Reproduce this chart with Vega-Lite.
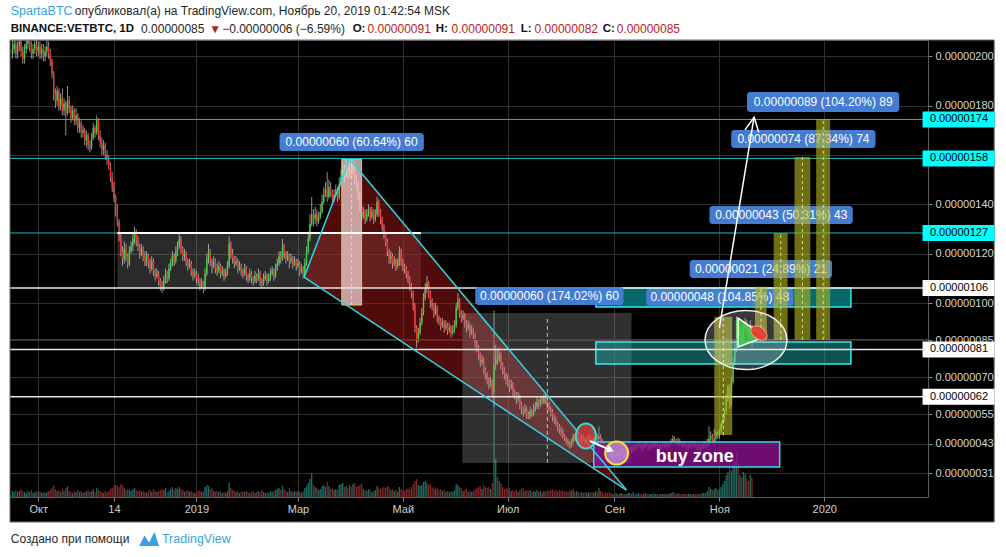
{
"$schema": "https://vega.github.io/schema/vega-lite/v6.json",
"width": 923, "height": 457, "autosize": "none",
"padding": {"left": 5, "top": 40, "right": 78, "bottom": 60},
"background": "#000000",
"config": {"view": {"stroke": "#5a5a5a", "strokeWidth": 1}, "font": "Liberation Sans", "axis": {"titleOpacity": 0}},
"datasets": {"c": [
{"d":"2018-09-16","o":201,"h":207,"l":199,"c":203,"v":6},
{"d":"2018-09-17","o":203,"h":209,"l":201,"c":205,"v":5},
{"d":"2018-09-18","o":205,"h":207,"l":199,"c":201,"v":7},
{"d":"2018-09-19","o":201,"h":206,"l":199,"c":204,"v":5},
{"d":"2018-09-20","o":204,"h":210,"l":202,"c":206,"v":6},
{"d":"2018-09-21","o":206,"h":208,"l":200,"c":202,"v":8},
{"d":"2018-09-22","o":202,"h":204,"l":197,"c":199,"v":6},
{"d":"2018-09-23","o":199,"h":205,"l":197,"c":203,"v":5},
{"d":"2018-09-24","o":203,"h":208,"l":201,"c":205,"v":4},
{"d":"2018-09-25","o":205,"h":211,"l":203,"c":207,"v":6},
{"d":"2018-09-26","o":207,"h":209,"l":202,"c":204,"v":5},
{"d":"2018-09-27","o":204,"h":206,"l":199,"c":201,"v":7},
{"d":"2018-09-28","o":201,"h":205,"l":199,"c":203,"v":4},
{"d":"2018-09-29","o":203,"h":207,"l":201,"c":205,"v":5},
{"d":"2018-09-30","o":205,"h":207,"l":200,"c":202,"v":6},
{"d":"2018-10-01","o":202,"h":206,"l":200,"c":204,"v":5},
{"d":"2018-10-02","o":204,"h":206,"l":199,"c":201,"v":6},
{"d":"2018-10-03","o":201,"h":205,"l":199,"c":203,"v":4},
{"d":"2018-10-04","o":203,"h":205,"l":198,"c":200,"v":5},
{"d":"2018-10-05","o":200,"h":204,"l":198,"c":202,"v":4},
{"d":"2018-10-06","o":202,"h":207,"l":200,"c":204,"v":5},
{"d":"2018-10-07","o":204,"h":206,"l":199,"c":201,"v":6},
{"d":"2018-10-08","o":201,"h":203,"l":196,"c":198,"v":7},
{"d":"2018-10-09","o":198,"h":199,"l":191,"c":193,"v":9},
{"d":"2018-10-10","o":193,"h":194,"l":182,"c":185,"v":12},
{"d":"2018-10-11","o":185,"h":187,"l":179,"c":182,"v":8},
{"d":"2018-10-12","o":182,"h":188,"l":180,"c":186,"v":6},
{"d":"2018-10-13","o":186,"h":187,"l":178,"c":180,"v":7},
{"d":"2018-10-14","o":180,"h":185,"l":178,"c":183,"v":5},
{"d":"2018-10-15","o":183,"h":187,"l":176,"c":178,"v":8},
{"d":"2018-10-16","o":178,"h":183,"l":176,"c":181,"v":6},
{"d":"2018-10-17","o":181,"h":182,"l":168,"c":177,"v":9},
{"d":"2018-10-18","o":177,"h":188,"l":176,"c":182,"v":11},
{"d":"2018-10-19","o":182,"h":184,"l":177,"c":179,"v":6},
{"d":"2018-10-20","o":179,"h":180,"l":173,"c":175,"v":5},
{"d":"2018-10-21","o":175,"h":180,"l":174,"c":178,"v":4},
{"d":"2018-10-22","o":178,"h":179,"l":172,"c":174,"v":6},
{"d":"2018-10-23","o":174,"h":179,"l":172,"c":176,"v":5},
{"d":"2018-10-24","o":176,"h":177,"l":169,"c":171,"v":7},
{"d":"2018-10-25","o":171,"h":175,"l":169,"c":173,"v":5},
{"d":"2018-10-26","o":173,"h":174,"l":167,"c":169,"v":6},
{"d":"2018-10-27","o":169,"h":172,"l":167,"c":170,"v":4},
{"d":"2018-10-28","o":170,"h":171,"l":164,"c":166,"v":5},
{"d":"2018-10-29","o":166,"h":170,"l":163,"c":168,"v":6},
{"d":"2018-10-30","o":168,"h":169,"l":162,"c":164,"v":7},
{"d":"2018-10-31","o":164,"h":166,"l":161,"c":163,"v":5},
{"d":"2018-11-01","o":163,"h":169,"l":162,"c":167,"v":6},
{"d":"2018-11-02","o":167,"h":173,"l":166,"c":171,"v":8},
{"d":"2018-11-03","o":171,"h":172,"l":167,"c":169,"v":5},
{"d":"2018-11-04","o":169,"h":176,"l":168,"c":174,"v":9},
{"d":"2018-11-05","o":174,"h":175,"l":166,"c":168,"v":7},
{"d":"2018-11-06","o":168,"h":170,"l":163,"c":165,"v":6},
{"d":"2018-11-07","o":165,"h":167,"l":160,"c":162,"v":5},
{"d":"2018-11-08","o":162,"h":166,"l":160,"c":164,"v":4},
{"d":"2018-11-09","o":164,"h":165,"l":158,"c":160,"v":6},
{"d":"2018-11-10","o":160,"h":162,"l":156,"c":158,"v":5},
{"d":"2018-11-11","o":158,"h":160,"l":154,"c":156,"v":6},
{"d":"2018-11-12","o":156,"h":157,"l":149,"c":151,"v":8},
{"d":"2018-11-13","o":151,"h":153,"l":145,"c":147,"v":9},
{"d":"2018-11-14","o":147,"h":149,"l":141,"c":143,"v":10},
{"d":"2018-11-15","o":143,"h":144,"l":135,"c":138,"v":12},
{"d":"2018-11-16","o":138,"h":140,"l":131,"c":133,"v":11},
{"d":"2018-11-17","o":133,"h":134,"l":125,"c":127,"v":10},
{"d":"2018-11-18","o":127,"h":128,"l":119,"c":121,"v":13},
{"d":"2018-11-19","o":121,"h":123,"l":115,"c":118,"v":12},
{"d":"2018-11-20","o":118,"h":125,"l":116,"c":122,"v":9},
{"d":"2018-11-21","o":122,"h":124,"l":117,"c":119,"v":7},
{"d":"2018-11-22","o":119,"h":120,"l":114,"c":116,"v":8},
{"d":"2018-11-23","o":116,"h":123,"l":115,"c":121,"v":7},
{"d":"2018-11-24","o":121,"h":125,"l":120,"c":123,"v":6},
{"d":"2018-11-25","o":123,"h":128,"l":121,"c":126,"v":8},
{"d":"2018-11-26","o":126,"h":131,"l":124,"c":129,"v":9},
{"d":"2018-11-27","o":129,"h":130,"l":123,"c":125,"v":7},
{"d":"2018-11-28","o":125,"h":127,"l":121,"c":123,"v":6},
{"d":"2018-11-29","o":123,"h":124,"l":118,"c":120,"v":7},
{"d":"2018-11-30","o":120,"h":124,"l":119,"c":122,"v":5},
{"d":"2018-12-01","o":122,"h":123,"l":117,"c":119,"v":6},
{"d":"2018-12-02","o":119,"h":121,"l":115,"c":117,"v":5},
{"d":"2018-12-03","o":117,"h":121,"l":115,"c":119,"v":4},
{"d":"2018-12-04","o":119,"h":120,"l":114,"c":116,"v":6},
{"d":"2018-12-05","o":116,"h":118,"l":112,"c":114,"v":7},
{"d":"2018-12-06","o":114,"h":119,"l":113,"c":117,"v":5},
{"d":"2018-12-07","o":117,"h":118,"l":111,"c":113,"v":8},
{"d":"2018-12-08","o":113,"h":114,"l":109,"c":111,"v":6},
{"d":"2018-12-09","o":111,"h":114,"l":110,"c":112,"v":5},
{"d":"2018-12-10","o":112,"h":113,"l":107,"c":109,"v":6},
{"d":"2018-12-11","o":109,"h":110,"l":105,"c":107,"v":7},
{"d":"2018-12-12","o":107,"h":109,"l":104,"c":106,"v":8},
{"d":"2018-12-13","o":106,"h":111,"l":105,"c":109,"v":7},
{"d":"2018-12-14","o":109,"h":114,"l":108,"c":112,"v":9},
{"d":"2018-12-15","o":112,"h":113,"l":108,"c":110,"v":5},
{"d":"2018-12-16","o":110,"h":116,"l":109,"c":114,"v":6},
{"d":"2018-12-17","o":114,"h":118,"l":113,"c":116,"v":8},
{"d":"2018-12-18","o":116,"h":121,"l":115,"c":119,"v":10},
{"d":"2018-12-19","o":119,"h":120,"l":115,"c":117,"v":7},
{"d":"2018-12-20","o":117,"h":123,"l":116,"c":121,"v":9},
{"d":"2018-12-21","o":121,"h":125,"l":119,"c":123,"v":8},
{"d":"2018-12-22","o":123,"h":128,"l":122,"c":126,"v":10},
{"d":"2018-12-23","o":126,"h":127,"l":120,"c":122,"v":8},
{"d":"2018-12-24","o":122,"h":123,"l":117,"c":119,"v":7},
{"d":"2018-12-25","o":119,"h":122,"l":117,"c":120,"v":5},
{"d":"2018-12-26","o":120,"h":121,"l":115,"c":117,"v":6},
{"d":"2018-12-27","o":117,"h":118,"l":113,"c":115,"v":7},
{"d":"2018-12-28","o":115,"h":118,"l":114,"c":116,"v":5},
{"d":"2018-12-29","o":116,"h":117,"l":111,"c":113,"v":6},
{"d":"2018-12-30","o":113,"h":114,"l":109,"c":111,"v":5},
{"d":"2018-12-31","o":111,"h":114,"l":110,"c":112,"v":4},
{"d":"2019-01-01","o":112,"h":113,"l":108,"c":110,"v":5},
{"d":"2019-01-02","o":110,"h":112,"l":107,"c":109,"v":6},
{"d":"2019-01-03","o":109,"h":110,"l":105,"c":107,"v":7},
{"d":"2019-01-04","o":107,"h":110,"l":106,"c":108,"v":5},
{"d":"2019-01-05","o":108,"h":109,"l":104,"c":106,"v":6},
{"d":"2019-01-06","o":106,"h":114,"l":105,"c":112,"v":10},
{"d":"2019-01-07","o":112,"h":120,"l":111,"c":118,"v":12},
{"d":"2019-01-08","o":118,"h":124,"l":116,"c":121,"v":11},
{"d":"2019-01-09","o":121,"h":122,"l":115,"c":117,"v":8},
{"d":"2019-01-10","o":117,"h":118,"l":112,"c":115,"v":9},
{"d":"2019-01-11","o":115,"h":119,"l":114,"c":117,"v":6},
{"d":"2019-01-12","o":117,"h":118,"l":112,"c":114,"v":5},
{"d":"2019-01-13","o":114,"h":116,"l":111,"c":113,"v":6},
{"d":"2019-01-14","o":113,"h":117,"l":112,"c":115,"v":5},
{"d":"2019-01-15","o":115,"h":116,"l":110,"c":112,"v":6},
{"d":"2019-01-16","o":112,"h":115,"l":111,"c":113,"v":4},
{"d":"2019-01-17","o":113,"h":114,"l":109,"c":111,"v":5},
{"d":"2019-01-18","o":111,"h":114,"l":110,"c":112,"v":4},
{"d":"2019-01-19","o":112,"h":117,"l":111,"c":115,"v":6},
{"d":"2019-01-20","o":115,"h":127,"l":114,"c":124,"v":14},
{"d":"2019-01-21","o":124,"h":125,"l":118,"c":120,"v":9},
{"d":"2019-01-22","o":120,"h":122,"l":116,"c":118,"v":7},
{"d":"2019-01-23","o":118,"h":119,"l":114,"c":116,"v":6},
{"d":"2019-01-24","o":116,"h":119,"l":115,"c":117,"v":5},
{"d":"2019-01-25","o":117,"h":118,"l":112,"c":114,"v":6},
{"d":"2019-01-26","o":114,"h":117,"l":113,"c":115,"v":4},
{"d":"2019-01-27","o":115,"h":116,"l":111,"c":113,"v":5},
{"d":"2019-01-28","o":113,"h":114,"l":110,"c":112,"v":6},
{"d":"2019-01-29","o":112,"h":116,"l":111,"c":114,"v":5},
{"d":"2019-01-30","o":114,"h":115,"l":109,"c":111,"v":6},
{"d":"2019-01-31","o":111,"h":112,"l":108,"c":110,"v":5},
{"d":"2019-02-01","o":110,"h":114,"l":109,"c":112,"v":4},
{"d":"2019-02-02","o":112,"h":113,"l":108,"c":110,"v":5},
{"d":"2019-02-03","o":110,"h":111,"l":107,"c":109,"v":6},
{"d":"2019-02-04","o":109,"h":113,"l":108,"c":111,"v":4},
{"d":"2019-02-05","o":111,"h":112,"l":108,"c":110,"v":5},
{"d":"2019-02-06","o":110,"h":114,"l":109,"c":112,"v":6},
{"d":"2019-02-07","o":112,"h":113,"l":107,"c":109,"v":5},
{"d":"2019-02-08","o":109,"h":110,"l":106,"c":108,"v":7},
{"d":"2019-02-09","o":108,"h":112,"l":107,"c":110,"v":5},
{"d":"2019-02-10","o":110,"h":113,"l":109,"c":111,"v":4},
{"d":"2019-02-11","o":111,"h":112,"l":107,"c":109,"v":5},
{"d":"2019-02-12","o":109,"h":112,"l":108,"c":110,"v":4},
{"d":"2019-02-13","o":110,"h":114,"l":109,"c":112,"v":6},
{"d":"2019-02-14","o":112,"h":115,"l":111,"c":113,"v":5},
{"d":"2019-02-15","o":113,"h":114,"l":109,"c":111,"v":6},
{"d":"2019-02-16","o":111,"h":116,"l":110,"c":114,"v":7},
{"d":"2019-02-17","o":114,"h":118,"l":113,"c":116,"v":8},
{"d":"2019-02-18","o":116,"h":121,"l":115,"c":119,"v":9},
{"d":"2019-02-19","o":119,"h":121,"l":116,"c":118,"v":7},
{"d":"2019-02-20","o":118,"h":126,"l":117,"c":123,"v":11},
{"d":"2019-02-21","o":123,"h":124,"l":118,"c":120,"v":8},
{"d":"2019-02-22","o":120,"h":121,"l":116,"c":118,"v":6},
{"d":"2019-02-23","o":118,"h":121,"l":117,"c":119,"v":5},
{"d":"2019-02-24","o":119,"h":120,"l":114,"c":117,"v":9},
{"d":"2019-02-25","o":117,"h":120,"l":116,"c":118,"v":6},
{"d":"2019-02-26","o":118,"h":119,"l":114,"c":116,"v":5},
{"d":"2019-02-27","o":116,"h":119,"l":115,"c":117,"v":6},
{"d":"2019-02-28","o":117,"h":118,"l":113,"c":115,"v":5},
{"d":"2019-03-01","o":115,"h":118,"l":114,"c":116,"v":6},
{"d":"2019-03-02","o":116,"h":117,"l":111,"c":113,"v":5},
{"d":"2019-03-03","o":113,"h":116,"l":112,"c":114,"v":4},
{"d":"2019-03-04","o":114,"h":115,"l":110,"c":112,"v":6},
{"d":"2019-03-05","o":112,"h":118,"l":111,"c":116,"v":9},
{"d":"2019-03-06","o":116,"h":123,"l":115,"c":121,"v":11},
{"d":"2019-03-07","o":121,"h":129,"l":120,"c":126,"v":14},
{"d":"2019-03-08","o":126,"h":136,"l":125,"c":132,"v":18},
{"d":"2019-03-09","o":132,"h":143,"l":131,"c":136,"v":24},
{"d":"2019-03-10","o":136,"h":138,"l":131,"c":134,"v":12},
{"d":"2019-03-11","o":134,"h":139,"l":132,"c":136,"v":10},
{"d":"2019-03-12","o":136,"h":138,"l":131,"c":133,"v":9},
{"d":"2019-03-13","o":133,"h":137,"l":132,"c":135,"v":7},
{"d":"2019-03-14","o":135,"h":140,"l":134,"c":137,"v":8},
{"d":"2019-03-15","o":137,"h":144,"l":136,"c":141,"v":11},
{"d":"2019-03-16","o":141,"h":147,"l":140,"c":144,"v":12},
{"d":"2019-03-17","o":144,"h":149,"l":143,"c":146,"v":10},
{"d":"2019-03-18","o":146,"h":153,"l":141,"c":143,"v":15},
{"d":"2019-03-19","o":143,"h":150,"l":142,"c":147,"v":11},
{"d":"2019-03-20","o":147,"h":149,"l":143,"c":145,"v":8},
{"d":"2019-03-21","o":145,"h":146,"l":140,"c":142,"v":9},
{"d":"2019-03-22","o":142,"h":146,"l":141,"c":144,"v":7},
{"d":"2019-03-23","o":144,"h":148,"l":143,"c":146,"v":8},
{"d":"2019-03-24","o":146,"h":147,"l":141,"c":143,"v":7},
{"d":"2019-03-25","o":143,"h":151,"l":142,"c":148,"v":12},
{"d":"2019-03-26","o":148,"h":154,"l":147,"c":151,"v":13},
{"d":"2019-03-27","o":151,"h":157,"l":150,"c":154,"v":14},
{"d":"2019-03-28","o":154,"h":156,"l":149,"c":152,"v":10},
{"d":"2019-03-29","o":152,"h":158,"l":151,"c":156,"v":11},
{"d":"2019-03-30","o":156,"h":157,"l":150,"c":153,"v":9},
{"d":"2019-03-31","o":153,"h":158.5,"l":151,"c":155,"v":12},
{"d":"2019-04-01","o":155,"h":157,"l":151,"c":154,"v":10},
{"d":"2019-04-02","o":154,"h":158,"l":152,"c":156,"v":13},
{"d":"2019-04-03","o":156,"h":157,"l":148,"c":150,"v":14},
{"d":"2019-04-04","o":150,"h":152,"l":146,"c":148,"v":10},
{"d":"2019-04-05","o":148,"h":149,"l":142,"c":144,"v":11},
{"d":"2019-04-06","o":144,"h":145,"l":137,"c":139,"v":12},
{"d":"2019-04-07","o":139,"h":140,"l":133,"c":135,"v":13},
{"d":"2019-04-08","o":135,"h":139,"l":134,"c":137,"v":8},
{"d":"2019-04-09","o":137,"h":138,"l":132,"c":134,"v":7},
{"d":"2019-04-10","o":134,"h":138,"l":133,"c":136,"v":6},
{"d":"2019-04-11","o":136,"h":140,"l":135,"c":138,"v":8},
{"d":"2019-04-12","o":138,"h":139,"l":133,"c":135,"v":7},
{"d":"2019-04-13","o":135,"h":139,"l":134,"c":137,"v":5},
{"d":"2019-04-14","o":137,"h":138,"l":132,"c":134,"v":6},
{"d":"2019-04-15","o":134,"h":138,"l":133,"c":136,"v":7},
{"d":"2019-04-16","o":136,"h":143,"l":135,"c":141,"v":11},
{"d":"2019-04-17","o":141,"h":142,"l":135,"c":137,"v":9},
{"d":"2019-04-18","o":137,"h":138,"l":132,"c":134,"v":8},
{"d":"2019-04-19","o":134,"h":135,"l":129,"c":131,"v":9},
{"d":"2019-04-20","o":131,"h":132,"l":126,"c":128,"v":10},
{"d":"2019-04-21","o":128,"h":129,"l":123,"c":125,"v":9},
{"d":"2019-04-22","o":125,"h":126,"l":119,"c":121,"v":11},
{"d":"2019-04-23","o":121,"h":122,"l":116,"c":118,"v":10},
{"d":"2019-04-24","o":118,"h":121,"l":116,"c":119,"v":7},
{"d":"2019-04-25","o":119,"h":120,"l":114,"c":116,"v":8},
{"d":"2019-04-26","o":116,"h":119,"l":115,"c":117,"v":6},
{"d":"2019-04-27","o":117,"h":118,"l":113,"c":115,"v":7},
{"d":"2019-04-28","o":115,"h":118,"l":114,"c":116,"v":5},
{"d":"2019-04-29","o":116,"h":123,"l":115,"c":121,"v":10},
{"d":"2019-04-30","o":121,"h":122,"l":115,"c":117,"v":8},
{"d":"2019-05-01","o":117,"h":118,"l":113,"c":115,"v":7},
{"d":"2019-05-02","o":115,"h":116,"l":112,"c":114,"v":6},
{"d":"2019-05-03","o":114,"h":115,"l":110,"c":112,"v":8},
{"d":"2019-05-04","o":112,"h":113,"l":108,"c":110,"v":9},
{"d":"2019-05-05","o":110,"h":111,"l":105,"c":107,"v":8},
{"d":"2019-05-06","o":107,"h":108,"l":102,"c":104,"v":10},
{"d":"2019-05-07","o":104,"h":105,"l":97,"c":99,"v":13},
{"d":"2019-05-08","o":99,"h":100,"l":88,"c":90,"v":16},
{"d":"2019-05-09","o":90,"h":91,"l":82,"c":85,"v":18},
{"d":"2019-05-10","o":85,"h":90,"l":84,"c":88,"v":12},
{"d":"2019-05-11","o":88,"h":94,"l":87,"c":92,"v":11},
{"d":"2019-05-12","o":92,"h":98,"l":91,"c":96,"v":12},
{"d":"2019-05-13","o":96,"h":104,"l":95,"c":102,"v":15},
{"d":"2019-05-14","o":102,"h":108,"l":101,"c":106,"v":16},
{"d":"2019-05-15","o":106,"h":111,"l":104,"c":108,"v":14},
{"d":"2019-05-16","o":108,"h":109,"l":102,"c":104,"v":12},
{"d":"2019-05-17","o":104,"h":105,"l":98,"c":101,"v":13},
{"d":"2019-05-18","o":101,"h":102,"l":97,"c":99,"v":9},
{"d":"2019-05-19","o":99,"h":100,"l":94,"c":96,"v":10},
{"d":"2019-05-20","o":96,"h":100,"l":95,"c":98,"v":8},
{"d":"2019-05-21","o":98,"h":99,"l":92,"c":94,"v":9},
{"d":"2019-05-22","o":94,"h":95,"l":91,"c":93,"v":7},
{"d":"2019-05-23","o":93,"h":94,"l":89,"c":91,"v":8},
{"d":"2019-05-24","o":91,"h":94,"l":90,"c":92,"v":6},
{"d":"2019-05-25","o":92,"h":93,"l":88,"c":90,"v":7},
{"d":"2019-05-26","o":90,"h":93,"l":89,"c":91,"v":5},
{"d":"2019-05-27","o":91,"h":92,"l":87,"c":89,"v":6},
{"d":"2019-05-28","o":89,"h":92,"l":88,"c":90,"v":5},
{"d":"2019-05-29","o":90,"h":91,"l":86,"c":88,"v":6},
{"d":"2019-05-30","o":88,"h":91,"l":87,"c":89,"v":5},
{"d":"2019-05-31","o":89,"h":93,"l":88,"c":91,"v":7},
{"d":"2019-06-01","o":91,"h":100,"l":90,"c":98,"v":13},
{"d":"2019-06-02","o":98,"h":104,"l":97,"c":101,"v":12},
{"d":"2019-06-03","o":101,"h":102,"l":94,"c":96,"v":10},
{"d":"2019-06-04","o":96,"h":97,"l":92,"c":94,"v":9},
{"d":"2019-06-05","o":94,"h":97,"l":93,"c":95,"v":6},
{"d":"2019-06-06","o":95,"h":96,"l":90,"c":92,"v":7},
{"d":"2019-06-07","o":92,"h":93,"l":88,"c":90,"v":8},
{"d":"2019-06-08","o":90,"h":93,"l":89,"c":91,"v":5},
{"d":"2019-06-09","o":91,"h":92,"l":86,"c":88,"v":7},
{"d":"2019-06-10","o":88,"h":91,"l":87,"c":89,"v":5},
{"d":"2019-06-11","o":89,"h":90,"l":85,"c":87,"v":6},
{"d":"2019-06-12","o":87,"h":88,"l":82,"c":84,"v":8},
{"d":"2019-06-13","o":84,"h":85,"l":80,"c":82,"v":9},
{"d":"2019-06-14","o":82,"h":83,"l":77,"c":79,"v":10},
{"d":"2019-06-15","o":79,"h":80,"l":74,"c":76,"v":11},
{"d":"2019-06-16","o":76,"h":79,"l":75,"c":77,"v":8},
{"d":"2019-06-17","o":77,"h":78,"l":71,"c":73,"v":12},
{"d":"2019-06-18","o":73,"h":74,"l":69,"c":71,"v":10},
{"d":"2019-06-19","o":71,"h":72,"l":67,"c":69,"v":9},
{"d":"2019-06-20","o":69,"h":70,"l":65,"c":67,"v":10},
{"d":"2019-06-21","o":67,"h":70,"l":66,"c":68,"v":8},
{"d":"2019-06-22","o":68,"h":69,"l":62,"c":64,"v":14},
{"d":"2019-06-23","o":64,"h":97,"l":58,"c":75,"v":100},
{"d":"2019-06-24","o":75,"h":83,"l":73,"c":79,"v":38},
{"d":"2019-06-25","o":79,"h":81,"l":75,"c":77,"v":20},
{"d":"2019-06-26","o":77,"h":82,"l":76,"c":79,"v":16},
{"d":"2019-06-27","o":79,"h":80,"l":73,"c":75,"v":14},
{"d":"2019-06-28","o":75,"h":76,"l":71,"c":73,"v":10},
{"d":"2019-06-29","o":73,"h":74,"l":69,"c":71,"v":8},
{"d":"2019-06-30","o":71,"h":72,"l":67,"c":69,"v":9},
{"d":"2019-07-01","o":69,"h":71,"l":66,"c":68,"v":8},
{"d":"2019-07-02","o":68,"h":69,"l":64,"c":66,"v":9},
{"d":"2019-07-03","o":66,"h":69,"l":65,"c":67,"v":6},
{"d":"2019-07-04","o":67,"h":68,"l":62,"c":64,"v":7},
{"d":"2019-07-05","o":64,"h":65,"l":61,"c":63,"v":6},
{"d":"2019-07-06","o":63,"h":64,"l":59,"c":61,"v":7},
{"d":"2019-07-07","o":61,"h":64,"l":60,"c":62,"v":5},
{"d":"2019-07-08","o":62,"h":63,"l":57,"c":59,"v":7},
{"d":"2019-07-09","o":59,"h":60,"l":55,"c":57,"v":8},
{"d":"2019-07-10","o":57,"h":58,"l":54,"c":56,"v":9},
{"d":"2019-07-11","o":56,"h":59,"l":55,"c":57,"v":6},
{"d":"2019-07-12","o":57,"h":58,"l":53,"c":55,"v":7},
{"d":"2019-07-13","o":55,"h":56,"l":53,"c":54,"v":6},
{"d":"2019-07-14","o":54,"h":58,"l":53,"c":56,"v":7},
{"d":"2019-07-15","o":56,"h":57,"l":54,"c":55,"v":5},
{"d":"2019-07-16","o":55,"h":59,"l":54,"c":57,"v":6},
{"d":"2019-07-17","o":57,"h":60,"l":56,"c":58,"v":5},
{"d":"2019-07-18","o":58,"h":62,"l":57,"c":60,"v":7},
{"d":"2019-07-19","o":60,"h":61,"l":57,"c":59,"v":5},
{"d":"2019-07-20","o":59,"h":62,"l":58,"c":61,"v":6},
{"d":"2019-07-21","o":61,"h":62,"l":59,"c":60,"v":4},
{"d":"2019-07-22","o":60,"h":63,"l":59,"c":62,"v":6},
{"d":"2019-07-23","o":62,"h":63,"l":59,"c":61,"v":5},
{"d":"2019-07-24","o":61,"h":62,"l":57,"c":59,"v":7},
{"d":"2019-07-25","o":59,"h":60,"l":56,"c":57,"v":6},
{"d":"2019-07-26","o":57,"h":58,"l":54,"c":56,"v":7},
{"d":"2019-07-27","o":56,"h":57,"l":52,"c":54,"v":8},
{"d":"2019-07-28","o":54,"h":55,"l":51,"c":53,"v":6},
{"d":"2019-07-29","o":53,"h":54,"l":50,"c":51,"v":7},
{"d":"2019-07-30","o":51,"h":52,"l":48,"c":50,"v":6},
{"d":"2019-07-31","o":50,"h":51,"l":47,"c":49,"v":7},
{"d":"2019-08-01","o":49,"h":50,"l":46,"c":48,"v":6},
{"d":"2019-08-02","o":48,"h":49,"l":45,"c":46,"v":7},
{"d":"2019-08-03","o":46,"h":47,"l":44,"c":45,"v":5},
{"d":"2019-08-04","o":45,"h":46,"l":43,"c":44,"v":6},
{"d":"2019-08-05","o":44,"h":45,"l":42,"c":43,"v":5},
{"d":"2019-08-06","o":43,"h":44,"l":41,"c":42,"v":7},
{"d":"2019-08-07","o":42,"h":45,"l":41.5,"c":44,"v":6},
{"d":"2019-08-08","o":44,"h":47,"l":43,"c":46,"v":8},
{"d":"2019-08-09","o":46,"h":47,"l":44,"c":45,"v":5},
{"d":"2019-08-10","o":45,"h":48,"l":44,"c":47,"v":6},
{"d":"2019-08-11","o":47,"h":48,"l":44,"c":45,"v":5},
{"d":"2019-08-12","o":45,"h":46,"l":43,"c":44,"v":4},
{"d":"2019-08-13","o":44,"h":47,"l":43,"c":46,"v":5},
{"d":"2019-08-14","o":46,"h":47,"l":44,"c":45,"v":4},
{"d":"2019-08-15","o":45,"h":46,"l":43,"c":44,"v":5},
{"d":"2019-08-16","o":44,"h":46,"l":43,"c":45,"v":4},
{"d":"2019-08-17","o":45,"h":47,"l":44,"c":46,"v":5},
{"d":"2019-08-18","o":46,"h":47,"l":44,"c":45,"v":4},
{"d":"2019-08-19","o":45,"h":46,"l":43,"c":44,"v":5},
{"d":"2019-08-20","o":44,"h":46,"l":43,"c":45,"v":4},
{"d":"2019-08-21","o":45,"h":47,"l":44,"c":46,"v":6},
{"d":"2019-08-22","o":46,"h":47,"l":44,"c":45,"v":5},
{"d":"2019-08-23","o":45,"h":50,"l":44,"c":46,"v":9},
{"d":"2019-08-24","o":46,"h":47,"l":43,"c":44,"v":6},
{"d":"2019-08-25","o":44,"h":45,"l":42,"c":43,"v":5},
{"d":"2019-08-26","o":43,"h":44,"l":41,"c":42,"v":4},
{"d":"2019-08-27","o":42,"h":43,"l":40,"c":41,"v":5},
{"d":"2019-08-28","o":41,"h":42,"l":39,"c":40,"v":4},
{"d":"2019-08-29","o":40,"h":41,"l":38,"c":39,"v":5},
{"d":"2019-08-30","o":39,"h":40,"l":37,"c":38,"v":4},
{"d":"2019-08-31","o":38,"h":40,"l":37,"c":39,"v":3},
{"d":"2019-09-01","o":39,"h":40,"l":37,"c":38,"v":3},
{"d":"2019-09-02","o":38,"h":40,"l":37,"c":39,"v":4},
{"d":"2019-09-03","o":39,"h":40,"l":37,"c":38,"v":3},
{"d":"2019-09-04","o":38,"h":40,"l":37.5,"c":39,"v":3},
{"d":"2019-09-05","o":39,"h":41,"l":38,"c":40,"v":4},
{"d":"2019-09-06","o":40,"h":41,"l":38,"c":39,"v":3},
{"d":"2019-09-07","o":39,"h":40,"l":37,"c":38,"v":3},
{"d":"2019-09-08","o":38,"h":40,"l":37.5,"c":39,"v":3},
{"d":"2019-09-09","o":39,"h":41,"l":38.5,"c":40,"v":4},
{"d":"2019-09-10","o":40,"h":42,"l":39.5,"c":41,"v":4},
{"d":"2019-09-11","o":41,"h":42,"l":39,"c":40,"v":3},
{"d":"2019-09-12","o":40,"h":43,"l":39.5,"c":42,"v":5},
{"d":"2019-09-13","o":42,"h":43,"l":40,"c":41,"v":3},
{"d":"2019-09-14","o":41,"h":43,"l":40.5,"c":42,"v":3},
{"d":"2019-09-15","o":42,"h":44,"l":41.5,"c":43,"v":4},
{"d":"2019-09-16","o":43,"h":44,"l":41,"c":42,"v":3},
{"d":"2019-09-17","o":42,"h":43,"l":40,"c":41,"v":3},
{"d":"2019-09-18","o":41,"h":43,"l":40.5,"c":42,"v":3},
{"d":"2019-09-19","o":42,"h":44,"l":41.5,"c":43,"v":4},
{"d":"2019-09-20","o":43,"h":44,"l":41,"c":42,"v":3},
{"d":"2019-09-21","o":42,"h":43,"l":40,"c":41,"v":3},
{"d":"2019-09-22","o":41,"h":43,"l":40.5,"c":42,"v":3},
{"d":"2019-09-23","o":42,"h":44,"l":41.5,"c":43,"v":3},
{"d":"2019-09-24","o":43,"h":44,"l":41,"c":42,"v":4},
{"d":"2019-09-25","o":42,"h":44,"l":41.5,"c":43,"v":3},
{"d":"2019-09-26","o":43,"h":44,"l":41,"c":42,"v":3},
{"d":"2019-09-27","o":42,"h":43,"l":40,"c":41,"v":3},
{"d":"2019-09-28","o":41,"h":43,"l":40.5,"c":42,"v":3},
{"d":"2019-09-29","o":42,"h":44,"l":41.5,"c":43,"v":3},
{"d":"2019-09-30","o":43,"h":44,"l":41,"c":42,"v":3},
{"d":"2019-10-01","o":42,"h":44,"l":41.5,"c":43,"v":3},
{"d":"2019-10-02","o":43,"h":44,"l":41,"c":42,"v":3},
{"d":"2019-10-03","o":42,"h":44,"l":41.5,"c":43,"v":3},
{"d":"2019-10-04","o":43,"h":45,"l":42.5,"c":44,"v":4},
{"d":"2019-10-05","o":44,"h":46.5,"l":43.5,"c":45,"v":5},
{"d":"2019-10-06","o":45,"h":46,"l":43,"c":44,"v":4},
{"d":"2019-10-07","o":44,"h":45,"l":42,"c":43,"v":3},
{"d":"2019-10-08","o":43,"h":45.5,"l":42.5,"c":44,"v":4},
{"d":"2019-10-09","o":44,"h":45,"l":42,"c":43,"v":3},
{"d":"2019-10-10","o":43,"h":44,"l":41,"c":42,"v":3},
{"d":"2019-10-11","o":42,"h":44,"l":41.5,"c":43,"v":3},
{"d":"2019-10-12","o":43,"h":44,"l":41,"c":42,"v":3},
{"d":"2019-10-13","o":42,"h":43,"l":40,"c":41,"v":3},
{"d":"2019-10-14","o":41,"h":43,"l":40.5,"c":42,"v":3},
{"d":"2019-10-15","o":42,"h":44,"l":41.5,"c":43,"v":3},
{"d":"2019-10-16","o":43,"h":44,"l":41,"c":42,"v":3},
{"d":"2019-10-17","o":42,"h":44,"l":41.5,"c":43,"v":3},
{"d":"2019-10-18","o":43,"h":44,"l":41,"c":42,"v":3},
{"d":"2019-10-19","o":42,"h":43,"l":40,"c":41,"v":3},
{"d":"2019-10-20","o":41,"h":43,"l":40.5,"c":42,"v":3},
{"d":"2019-10-21","o":42,"h":43,"l":40,"c":41,"v":3},
{"d":"2019-10-22","o":41,"h":43,"l":40.5,"c":42,"v":4},
{"d":"2019-10-23","o":42,"h":44,"l":41,"c":43,"v":4},
{"d":"2019-10-24","o":43,"h":44,"l":41,"c":42,"v":4},
{"d":"2019-10-25","o":42,"h":45,"l":41.5,"c":43,"v":6},
{"d":"2019-10-26","o":43,"h":50,"l":42,"c":45,"v":10},
{"d":"2019-10-27","o":45,"h":48,"l":44,"c":46,"v":8},
{"d":"2019-10-28","o":46,"h":47,"l":43,"c":44,"v":7},
{"d":"2019-10-29","o":44,"h":49,"l":43,"c":45,"v":8},
{"d":"2019-10-30","o":45,"h":48,"l":44,"c":47,"v":9},
{"d":"2019-10-31","o":47,"h":48,"l":45,"c":46,"v":7},
{"d":"2019-11-01","o":46,"h":49,"l":45,"c":48,"v":8},
{"d":"2019-11-02","o":48,"h":52,"l":47,"c":51,"v":10},
{"d":"2019-11-03","o":51,"h":55,"l":50,"c":53,"v":13},
{"d":"2019-11-04","o":53,"h":57,"l":52,"c":56,"v":16},
{"d":"2019-11-05","o":56,"h":63,"l":55,"c":61,"v":22},
{"d":"2019-11-06","o":61,"h":67,"l":60,"c":66,"v":25},
{"d":"2019-11-07","o":66,"h":67,"l":57,"c":59,"v":30},
{"d":"2019-11-08","o":59,"h":70,"l":58,"c":68,"v":26},
{"d":"2019-11-09","o":68,"h":78,"l":67,"c":76,"v":32},
{"d":"2019-11-10","o":76,"h":84,"l":75,"c":82,"v":36},
{"d":"2019-11-11","o":82,"h":94.5,"l":80,"c":93,"v":44},
{"d":"2019-11-12","o":93,"h":94,"l":85,"c":87,"v":34},
{"d":"2019-11-13","o":87,"h":91,"l":85,"c":88,"v":22},
{"d":"2019-11-14","o":88,"h":89,"l":83,"c":85,"v":20},
{"d":"2019-11-15","o":85,"h":92,"l":84,"c":90,"v":25},
{"d":"2019-11-16","o":90,"h":94,"l":89,"c":92,"v":23},
{"d":"2019-11-17","o":92,"h":93,"l":87,"c":89,"v":18},
{"d":"2019-11-18","o":89,"h":90,"l":85,"c":87,"v":16},
{"d":"2019-11-19","o":87,"h":93,"l":86,"c":91,"v":22},
{"d":"2019-11-20","o":91,"h":91,"l":82,"c":85,"v":19}
]},
"resolve": {"scale": {"y": "independent"}},
"layer": [
{
 "data": {"name": "c"},
 "mark": {"type": "bar", "width": 1.3, "clip": true},
 "encoding": {
  "x": {"field": "d", "type": "temporal", "title": null,
   "scale": {"type": "utc", "domain": [{"year": 2018, "month": 9, "date": 14, "hours": 14, "utc": true}, {"year": 2020, "month": 2, "date": 27, "hours": 10, "utc": true}]},
   "axis": {"values": [{"year":2018,"month":10,"date":1,"utc":true},{"year":2018,"month":11,"date":14,"utc":true},{"year":2019,"month":1,"date":1,"utc":true},{"year":2019,"month":3,"date":1,"utc":true},{"year":2019,"month":5,"date":1,"utc":true},{"year":2019,"month":7,"date":1,"utc":true},{"year":2019,"month":9,"date":1,"utc":true},{"year":2019,"month":11,"date":1,"utc":true},{"year":2020,"month":1,"date":1,"utc":true}],
    "labelExpr": "utcdate(datum.value)==14 ? '14' : (utcmonth(datum.value)==0 ? ''+utcyear(datum.value) : ['Янв','Фев','Мар','Апр','Май','Июн','Июл','Авг','Сен','Окт','Ноя','Дек'][utcmonth(datum.value)])",
    "grid": true, "gridColor": "#303030", "domain": false, "ticks": true, "tickColor": "#8a8a8a", "tickSize": 4,
    "labelColor": "#d0d0d0", "labelFont": "Liberation Sans", "labelFontSize": 11, "labelPadding": 2, "labelOverlap": false, "labelFlush": false, "title": null}},
  "y": {"field": "v", "type": "quantitative", "title": null, "scale": {"domain": [0, 457], "nice": false, "zero": true}, "axis": null},
  "color": {"condition": {"test": "datum.c >= datum.o", "value": "#1f6e66"}, "value": "#7d2727"}
 }
},
{
 "layer": [
  {"data": {"values": [{"x": "2018-11-16T00:00:00Z", "x2": "2019-05-11T12:00:00Z", "y": 106.1, "y2": 128.4}]},
   "mark": {"type": "rect", "color": "#8c8c8c", "opacity": 0.3},
   "encoding": {"x": {"field": "x", "type": "temporal", "title": null}, "x2": {"field": "x2"},
    "y": {"field": "y", "type": "quantitative", "title": null, "scale": {"domain": [21.4, 206.6], "nice": false, "zero": false},
     "axis": {"orient": "right", "values": [31, 43, 55, 70, 85, 100, 120, 140, 160, 180, 200],
      "labelExpr": "datum.value == 160 ? '' : format(datum.value / 100000000, '.8f')",
      "grid": true, "gridColor": "#303030", "domain": false, "ticks": true, "tickColor": "#8a8a8a", "tickSize": 4,
      "labelColor": "#d6d6d6", "labelFont": "Liberation Sans", "labelFontSize": 11, "labelPadding": 3, "labelOverlap": false, "labelFlush": false, "title": null}},
    "y2": {"field": "y2"}}},
  {"data": {"values": [{"x": "2019-03-04T14:00:00Z", "y": 110.5, "y2": 110.5}, {"x": "2019-03-31T02:00:00Z", "y": 158.4, "y2": 98.4}, {"x": "2019-09-08T00:00:00Z", "y": 24.2, "y2": 24.2}]},
   "mark": {"type": "area", "color": "#a31616", "opacity": 0.5},
   "encoding": {"x": {"field": "x", "type": "temporal", "title": null}, "y": {"field": "y", "type": "quantitative", "title": null}, "y2": {"field": "y2"}}},
  {"data": {"name": "c"},
   "mark": {"type": "rule", "color": "#ececec", "opacity": 0.6, "strokeWidth": 1, "clip": true},
   "encoding": {"x": {"field": "d", "type": "temporal", "title": null}, "y": {"field": "l", "type": "quantitative", "title": null}, "y2": {"field": "h"}}},
  {"data": {"name": "c"},
   "mark": {"type": "rule", "strokeWidth": 1.4, "clip": true},
   "encoding": {"x": {"field": "d", "type": "temporal", "title": null}, "y": {"field": "o", "type": "quantitative", "title": null}, "y2": {"field": "c"},
    "color": {"condition": {"test": "datum.c >= datum.o", "value": "#36d936"}, "value": "#ff2e2e"}}},
  {"data": {"values": [{"x": "2019-06-04T14:00:00Z", "x2": "2019-09-10T22:00:00Z", "y": 35.2, "y2": 95.95}]},
   "mark": {"type": "rect", "color": "#a0a0a0", "opacity": 0.3},
   "encoding": {"x": {"field": "x", "type": "temporal", "title": null}, "x2": {"field": "x2"}, "y": {"field": "y", "type": "quantitative", "title": null}, "y2": {"field": "y2"}}},
  {"data": {"values": [{"x": "2019-03-26T12:00:00Z", "x2": "2019-04-07T00:00:00Z", "y": 99.2, "y2": 158.35}]},
   "mark": {"type": "rect", "fill": "#f6dada", "fillOpacity": 0.72, "stroke": "#d2d25a", "strokeWidth": 1},
   "encoding": {"x": {"field": "x", "type": "temporal", "title": null}, "x2": {"field": "x2"}, "y": {"field": "y", "type": "quantitative", "title": null}, "y2": {"field": "y2"}}},
  {"data": {"values": [{"x": "2019-08-21T05:00:00Z", "x2": "2020-01-16T12:00:00Z", "y": 98.4, "y2": 106.1}]},
   "mark": {"type": "rect", "fill": "#0b7a7a", "fillOpacity": 0.85, "stroke": "#3ae8f2", "strokeWidth": 1.5},
   "encoding": {"x": {"field": "x", "type": "temporal", "title": null}, "x2": {"field": "x2"}, "y": {"field": "y", "type": "quantitative", "title": null}, "y2": {"field": "y2"}}},
  {"data": {"values": [{"x": "2019-08-21T05:00:00Z", "x2": "2020-01-16T12:00:00Z", "y": 75.3, "y2": 84.2}]},
   "mark": {"type": "rect", "fill": "#1ba3a3", "fillOpacity": 0.5, "stroke": "#3ae8f2", "strokeWidth": 1.5},
   "encoding": {"x": {"field": "x", "type": "temporal", "title": null}, "x2": {"field": "x2"}, "y": {"field": "y", "type": "quantitative", "title": null}, "y2": {"field": "y2"}}},
  {"data": {"values": [{"x": "2019-08-20T00:00:00Z", "x2": "2019-12-06T02:00:00Z", "y": 33.55, "y2": 43.7}]},
   "mark": {"type": "rect", "fill": "#8b0f8b", "fillOpacity": 0.8, "stroke": "#3ad8ee", "strokeWidth": 1.5},
   "encoding": {"x": {"field": "x", "type": "temporal", "title": null}, "x2": {"field": "x2"}, "y": {"field": "y", "type": "quantitative", "title": null}, "y2": {"field": "y2"}}},
  {"data": {"values": [{"v": 174.4}, {"v": 158.6}, {"v": 128.4}]},
   "mark": {"type": "rule", "color": "#1bb8c0", "strokeWidth": 1},
   "encoding": {"y": {"field": "v", "type": "quantitative", "title": null}}},
  {"data": {"values": [{"v": 106.1}, {"v": 81.2}, {"v": 62}]},
   "mark": {"type": "rule", "color": "#e8e8e8", "strokeWidth": 1.5},
   "encoding": {"y": {"field": "v", "type": "quantitative", "title": null}}},
  {"data": {"values": [{"v": 85.2}]},
   "mark": {"type": "rule", "color": "#b0171a", "strokeWidth": 1},
   "encoding": {"y": {"field": "v", "type": "quantitative", "title": null}}},
  {"data": {"values": [{"x": "2018-11-16T00:00:00Z", "x2": "2019-05-11T12:00:00Z", "y": 128.4}]},
   "mark": {"type": "rule", "color": "#ffffff", "strokeWidth": 2},
   "encoding": {"x": {"field": "x", "type": "temporal", "title": null}, "x2": {"field": "x2"}, "y": {"field": "y", "type": "quantitative", "title": null}}},
  {"data": {"values": [
    {"x": "2019-03-04T14:00:00Z", "y": 110.5, "x2": "2019-03-31T02:00:00Z", "y2": 158.4},
    {"x": "2019-03-31T02:00:00Z", "y": 158.4, "x2": "2019-09-08T00:00:00Z", "y2": 24.2},
    {"x": "2019-03-04T14:00:00Z", "y": 110.5, "x2": "2019-09-08T00:00:00Z", "y2": 24.2}]},
   "mark": {"type": "rule", "color": "#2fd6e6", "strokeWidth": 1.5},
   "encoding": {"x": {"field": "x", "type": "temporal", "title": null}, "x2": {"field": "x2"}, "y": {"field": "y", "type": "quantitative", "title": null}, "y2": {"field": "y2"}}},
  {"data": {"values": [{"x": "2019-08-15T10:00:00Z", "y": 46.1}]},
   "mark": {"type": "point", "shape": "M 0 -1 A 0.8 1 0 1 1 0 1 A 0.8 1 0 1 1 0 -1 Z", "size": 625, "filled": true, "fill": "#e23a3a", "fillOpacity": 0.75, "stroke": "#3fd6d6", "strokeWidth": 2, "strokeOpacity": 1},
   "encoding": {"x": {"field": "x", "type": "temporal", "title": null}, "y": {"field": "y", "type": "quantitative", "title": null}}},
  {"data": {"values": [{"x": "2019-09-02T07:00:00Z", "y": 39.2}]},
   "mark": {"type": "point", "shape": "circle", "size": 529, "filled": true, "fill": "#d9b8f2", "fillOpacity": 0.6, "stroke": "#f0e23c", "strokeWidth": 2, "strokeOpacity": 1},
   "encoding": {"x": {"field": "x", "type": "temporal", "title": null}, "y": {"field": "y", "type": "quantitative", "title": null}}},
  {"data": {"values": [{"x": "2019-08-17T17:00:00Z", "y": 44.1, "x2": "2019-08-29T19:00:00Z", "y2": 40.4}]},
   "mark": {"type": "rule", "color": "#ffffff", "strokeWidth": 2},
   "encoding": {"x": {"field": "x", "type": "temporal", "title": null}, "x2": {"field": "x2"}, "y": {"field": "y", "type": "quantitative", "title": null}, "y2": {"field": "y2"}}},
  {"data": {"values": [{"x": "2019-08-29T19:00:00Z", "y": 40.4}]},
   "mark": {"type": "point", "shape": "triangle-right", "size": 60, "angle": 25, "filled": true, "color": "#ffffff", "opacity": 1},
   "encoding": {"x": {"field": "x", "type": "temporal", "title": null}, "y": {"field": "y", "type": "quantitative", "title": null}}},
  {"data": {"values": [
    {"x": "2019-02-18T07:00:00Z", "x2": "2019-05-13T05:00:00Z", "y": 161.6, "y2": 168.9},
    {"x": "2019-06-12T02:00:00Z", "x2": "2019-09-06T07:00:00Z", "y": 99.2, "y2": 106.5},
    {"x": "2019-09-19T12:00:00Z", "x2": "2019-12-14T02:00:00Z", "y": 98.9, "y2": 105.7},
    {"x": "2019-10-14T19:00:00Z", "x2": "2020-01-05T12:00:00Z", "y": 110.2, "y2": 117.4},
    {"x": "2019-10-26T07:00:00Z", "x2": "2020-01-17T14:00:00Z", "y": 132.0, "y2": 139.3},
    {"x": "2019-11-07T22:00:00Z", "x2": "2020-01-30T19:00:00Z", "y": 162.8, "y2": 170.1},
    {"x": "2019-11-17T02:00:00Z", "x2": "2020-02-13T14:00:00Z", "y": 177.4, "y2": 185.5}]},
   "mark": {"type": "rect", "color": "#4680d8", "opacity": 0.97, "cornerRadius": 3},
   "encoding": {"x": {"field": "x", "type": "temporal", "title": null}, "x2": {"field": "x2"}, "y": {"field": "y", "type": "quantitative", "title": null}, "y2": {"field": "y2"}}},
  {"data": {"values": [
    {"x": "2019-04-01T05:00:00Z", "y": 165.3, "t": "0.00000060 (60.64%) 60"},
    {"x": "2019-07-25T05:00:00Z", "y": 102.9, "t": "0.00000060 (174.02%) 60"},
    {"x": "2019-11-01T07:00:00Z", "y": 102.3, "t": "0.00000048 (104.85%) 48"},
    {"x": "2019-11-25T05:00:00Z", "y": 113.8, "t": "0.00000021 (24.89%) 21"},
    {"x": "2019-12-07T00:00:00Z", "y": 135.7, "t": "0.00000043 (50.31%) 43"},
    {"x": "2019-12-19T22:00:00Z", "y": 166.5, "t": "0.00000074 (87.34%) 74"},
    {"x": "2019-12-31T10:00:00Z", "y": 181.4, "t": "0.00000089 (104.20%) 89"}]},
   "mark": {"type": "text", "color": "#ffffff", "font": "Liberation Sans", "fontSize": 12, "align": "center", "baseline": "middle"},
   "encoding": {"x": {"field": "x", "type": "temporal", "title": null}, "y": {"field": "y", "type": "quantitative", "title": null}, "text": {"field": "t"}}},
  {"data": {"values": [
    {"x": "2019-10-29T02:00:00Z", "x2": "2019-11-08T12:00:00Z", "y": 46.5, "y2": 94.4},
    {"x": "2019-11-21T17:00:00Z", "x2": "2019-11-28T14:00:00Z", "y": 85.1, "y2": 106.6},
    {"x": "2019-12-02T14:00:00Z", "x2": "2019-12-10T17:00:00Z", "y": 85.1, "y2": 128.4},
    {"x": "2019-12-14T17:00:00Z", "x2": "2019-12-23T22:00:00Z", "y": 85.1, "y2": 159.2},
    {"x": "2019-12-27T07:00:00Z", "x2": "2020-01-04T10:00:00Z", "y": 85.1, "y2": 174.6}]},
   "mark": {"type": "rect", "color": "#b8b820", "opacity": 0.6},
   "encoding": {"x": {"field": "x", "type": "temporal", "title": null}, "x2": {"field": "x2"}, "y": {"field": "y", "type": "quantitative", "title": null}, "y2": {"field": "y2"}}},
  {"data": {"values": [
    {"x": "2019-04-01T05:00:00Z", "y": 99.2, "y2": 158.35},
    {"x": "2019-11-03T07:00:00Z", "y": 46.5, "y2": 94.4},
    {"x": "2019-11-25T05:00:00Z", "y": 85.1, "y2": 106.6},
    {"x": "2019-12-06T17:00:00Z", "y": 85.1, "y2": 128.4},
    {"x": "2019-12-19T07:00:00Z", "y": 85.1, "y2": 159.2},
    {"x": "2019-12-31T10:00:00Z", "y": 85.1, "y2": 174.6}]},
   "mark": {"type": "rule", "color": "#ecec8a", "strokeWidth": 1, "strokeDash": [3, 3], "opacity": 0.9},
   "encoding": {"x": {"field": "x", "type": "temporal", "title": null}, "y": {"field": "y", "type": "quantitative", "title": null}, "y2": {"field": "y2"}}},
  {"data": {"values": [{"x": "2019-07-24T00:00:00Z", "y": 35.2, "y2": 94.5}]},
   "mark": {"type": "rule", "color": "#c0c0c0", "strokeWidth": 1, "strokeDash": [4, 3]},
   "encoding": {"x": {"field": "x", "type": "temporal", "title": null}, "y": {"field": "y", "type": "quantitative", "title": null}, "y2": {"field": "y2"}}},
  {"data": {"values": [{"x": "2019-11-16T12:00:00Z", "y": 85.0}]},
   "mark": {"type": "point", "shape": "M -1 0 A 1 0.72 0 1 1 1 0 A 1 0.72 0 1 1 -1 0 Z", "size": 6724, "filled": true, "fill": "#ffffff", "fillOpacity": 0.22, "stroke": "#eeeeee", "strokeWidth": 1.5, "strokeOpacity": 1},
   "encoding": {"x": {"field": "x", "type": "temporal", "title": null}, "y": {"field": "y", "type": "quantitative", "title": null}}},
  {"data": {"values": [{"x": "2019-11-11T22:00:00Z", "y": 93.9, "y2": 82.2}, {"x": "2019-11-27T12:00:00Z", "y": 86.3, "y2": 86.3}]},
   "mark": {"type": "area", "fill": "#39d04a", "fillOpacity": 0.85, "stroke": "#ffffff", "strokeWidth": 1.5},
   "encoding": {"x": {"field": "x", "type": "temporal", "title": null}, "y": {"field": "y", "type": "quantitative", "title": null}, "y2": {"field": "y2"}}},
  {"data": {"values": [{"x": "2019-11-24T00:00:00Z", "y": 87.8}]},
   "mark": {"type": "point", "shape": "M -1 0 A 1 0.65 0 1 1 1 0 A 1 0.65 0 1 1 -1 0 Z", "size": 330, "angle": 35, "filled": true, "fill": "#e0402a", "fillOpacity": 0.95, "stroke": "#ff9a8a", "strokeWidth": 1, "strokeOpacity": 1},
   "encoding": {"x": {"field": "x", "type": "temporal", "title": null}, "y": {"field": "y", "type": "quantitative", "title": null}}},
  {"data": {"values": [{"x": "2019-11-01T00:00:00Z", "y": 89.9, "x2": "2019-11-21T03:00:00Z", "y2": 175.0}]},
   "mark": {"type": "rule", "color": "#ffffff", "strokeWidth": 1.5},
   "encoding": {"x": {"field": "x", "type": "temporal", "title": null}, "x2": {"field": "x2"}, "y": {"field": "y", "type": "quantitative", "title": null}, "y2": {"field": "y2"}}},
  {"data": {"values": [{"x": "2019-11-20T14:00:00Z", "y": 172.5}]},
   "mark": {"type": "point", "shape": "M -1 1 L 0 -1 L 1 1", "size": 196, "angle": 9.5, "filled": false, "color": "#ffffff", "strokeWidth": 1.5, "opacity": 1},
   "encoding": {"x": {"field": "x", "type": "temporal", "title": null}, "y": {"field": "y", "type": "quantitative", "title": null}}},
  {"data": {"values": [{"x": "2019-10-17T17:00:00Z", "y": 37.6, "t": "buy zone"}]},
   "mark": {"type": "text", "color": "#ffffff", "font": "Liberation Sans", "fontSize": 18, "fontWeight": "bold", "align": "center", "baseline": "middle"},
   "encoding": {"x": {"field": "x", "type": "temporal", "title": null}, "y": {"field": "y", "type": "quantitative", "title": null}, "text": {"field": "t"}}},
  {"data": {"values": [
    {"x": "2018-08-01T00:00:00Z", "x2": "2020-05-01T00:00:00Z", "y": 206.6, "y2": 240},
    {"x": "2018-08-01T00:00:00Z", "x2": "2020-05-01T00:00:00Z", "y": -40, "y2": 11.27},
    {"x": "2018-08-01T00:00:00Z", "x2": "2018-09-14T14:00:00Z", "y": -40, "y2": 240},
    {"x": "2020-04-08T19:00:00Z", "x2": "2020-05-01T00:00:00Z", "y": -40, "y2": 240}]},
   "mark": {"type": "rect", "color": "#ffffff", "opacity": 1, "clip": false},
   "encoding": {"x": {"field": "x", "type": "temporal", "title": null}, "x2": {"field": "x2"}, "y": {"field": "y", "type": "quantitative", "title": null}, "y2": {"field": "y2"}}},
  {"data": {"values": [{"x": "2018-09-14T14:00:00Z", "x2": "2020-04-08T19:00:00Z", "y": 11.27, "y2": 206.6}]},
   "mark": {"type": "rect", "fillOpacity": 0, "stroke": "#6a6a6a", "strokeWidth": 1, "clip": false},
   "encoding": {"x": {"field": "x", "type": "temporal", "title": null}, "x2": {"field": "x2"}, "y": {"field": "y", "type": "quantitative", "title": null}, "y2": {"field": "y2"}}},
  {"data": {"values": [{"v": 174.4}, {"v": 158.6}, {"v": 128.4}]},
   "mark": {"type": "point", "shape": "M -1 -0.222 L 1 -0.222 L 1 0.222 L -1 0.222 Z", "size": 5184, "filled": true, "color": "#00ffff", "opacity": 1, "clip": false},
   "encoding": {"x": {"datum": {"year": 2020, "month": 3, "date": 19, "hours": 2, "utc": true}, "type": "temporal"}, "y": {"field": "v", "type": "quantitative", "title": null}}},
  {"data": {"values": [{"v": 106.1}, {"v": 81.2}, {"v": 62}]},
   "mark": {"type": "point", "shape": "M -1 -0.222 L 1 -0.222 L 1 0.222 L -1 0.222 Z", "size": 5184, "filled": true, "color": "#ffffff", "opacity": 1, "clip": false},
   "encoding": {"x": {"datum": {"year": 2020, "month": 3, "date": 19, "hours": 2, "utc": true}, "type": "temporal"}, "y": {"field": "v", "type": "quantitative", "title": null}}},
  {"data": {"values": [{"v": 174.4, "t": "0.00000174"}, {"v": 158.6, "t": "0.00000158"}, {"v": 128.4, "t": "0.00000127"}, {"v": 106.1, "t": "0.00000106"}, {"v": 81.2, "t": "0.00000081"}, {"v": 62, "t": "0.00000062"}]},
   "mark": {"type": "text", "color": "#000000", "font": "Liberation Sans", "fontSize": 11, "align": "left", "baseline": "middle", "clip": false},
   "encoding": {"x": {"datum": {"year": 2020, "month": 3, "date": 2, "hours": 10, "utc": true}, "type": "temporal"}, "y": {"field": "v", "type": "quantitative", "title": null}, "text": {"field": "t"}}},
  {"data": {"values": [
    {"x": "2018-10-22T07:00:00Z", "y": 218.3, "t": "опубликовал(а) на TradingView.com, Ноябрь 20, 2019 01:42:54 MSK"},
    {"x": "2018-11-29T19:00:00Z", "y": 211.0, "t": "0.00000085"},
    {"x": "2019-01-15T22:00:00Z", "y": 211.0, "t": "−0.00000006 (−6.59%)"},
    {"x": "2018-09-15T00:00:00Z", "y": 4.4, "t": "Создано при помощи"}]},
   "mark": {"type": "text", "color": "#262626", "font": "Liberation Sans", "fontSize": 12, "align": "left", "baseline": "middle", "clip": false},
   "encoding": {"x": {"field": "x", "type": "temporal", "title": null}, "y": {"field": "y", "type": "quantitative", "title": null}, "text": {"field": "t"}}},
  {"data": {"values": [
    {"x": "2018-09-15T00:00:00Z", "y": 211.0, "t": "BINANCE:VETBTC, 1D"},
    {"x": "2019-04-01T19:00:00Z", "y": 211.0, "t": "O:"},
    {"x": "2019-05-20T02:00:00Z", "y": 211.0, "t": "H:"},
    {"x": "2019-07-08T12:00:00Z", "y": 211.0, "t": "L:"},
    {"x": "2019-08-25T05:00:00Z", "y": 211.0, "t": "C:"}]},
   "mark": {"type": "text", "color": "#111111", "font": "Liberation Sans", "fontSize": 11.5, "fontWeight": "bold", "align": "left", "baseline": "middle", "clip": false},
   "encoding": {"x": {"field": "x", "type": "temporal", "title": null}, "y": {"field": "y", "type": "quantitative", "title": null}, "text": {"field": "t"}}},
  {"data": {"values": [
    {"x": "2019-01-08T12:00:00Z", "y": 211.0, "t": "▼"},
    {"x": "2019-04-10T10:00:00Z", "y": 211.0, "t": "0.00000091"},
    {"x": "2019-05-29T07:00:00Z", "y": 211.0, "t": "0.00000091"},
    {"x": "2019-07-16T14:00:00Z", "y": 211.0, "t": "0.00000082"},
    {"x": "2019-09-02T07:00:00Z", "y": 211.0, "t": "0.00000085"}]},
   "mark": {"type": "text", "color": "#b71c1c", "font": "Liberation Sans", "fontSize": 12, "align": "left", "baseline": "middle", "clip": false},
   "encoding": {"x": {"field": "x", "type": "temporal", "title": null}, "y": {"field": "y", "type": "quantitative", "title": null}, "text": {"field": "t"}}},
  {"data": {"values": [
    {"x": "2018-09-15T00:00:00Z", "y": 218.3, "t": "SpartaBTC"},
    {"x": "2018-12-11T22:00:00Z", "y": 4.4, "t": "TradingView"}]},
   "mark": {"type": "text", "color": "#3a9fe0", "font": "Liberation Sans", "fontSize": 12.5, "align": "left", "baseline": "middle", "clip": false},
   "encoding": {"x": {"field": "x", "type": "temporal", "title": null}, "y": {"field": "y", "type": "quantitative", "title": null}, "text": {"field": "t"}}},
  {"data": {"values": [{"x": "2018-12-04T10:00:00Z", "y": 4.4}]},
   "mark": {"type": "point", "shape": "M -1 0.7 L -0.45 -0.35 L 0 0.35 L 0.55 -0.7 L 1 0.7 Z", "size": 400, "filled": true, "color": "#3a9fe0", "opacity": 1, "clip": false},
   "encoding": {"x": {"field": "x", "type": "temporal", "title": null}, "y": {"field": "y", "type": "quantitative", "title": null}}}
 ]
}
]
}
